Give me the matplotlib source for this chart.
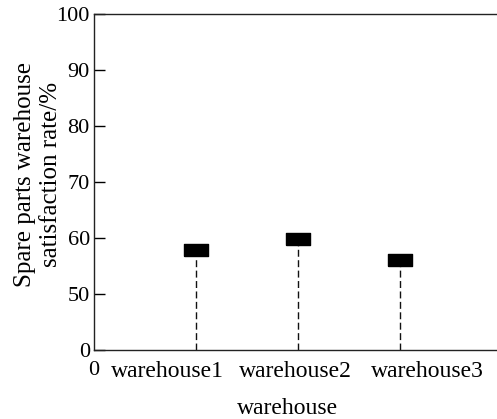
import matplotlib

matplotlib.use("Agg")
import matplotlib.pyplot as plt
from matplotlib.transforms import ScaledTranslation

# data
warehouses = ["warehouse1", "warehouse2", "warehouse3"]
positions = [1, 2, 3]
satisfaction = [57.9, 59.8, 56.1]

# y axis is broken: bottom of the axis stands for 0, then 50..100
y_ticks = [40, 50, 60, 70, 80, 90, 100]
y_tick_labels = ["0", "50", "60", "70", "80", "90", "100"]

# category names are not centred under the stems in the original
label_x = [0.725, 1.975, 3.27]

plt.rcParams["font.family"] = ["Liberation Serif", "DejaVu Serif"]
plt.rcParams["font.size"] = 17

fig = plt.figure(figsize=(4.97, 4.19), dpi=100)
ax = fig.add_axes([0.189, 0.165, 0.811, 0.802])

# dashed stems from the axis up to each marker
ax.vlines(positions, 40, satisfaction, colors="#111111", linestyles=(0, (5, 2.5)), linewidth=1)

# flat black box marker
box = [(-1, -0.5), (1, -0.5), (1, 0.5), (-1, 0.5), (-1, -0.5)]
ax.plot(positions, satisfaction, linestyle="none", marker=box, markersize=17,
        color="black", zorder=3)

ax.set_xlim(0, 3.95)
ax.set_ylim(40, 100)
ax.set_yticks(y_ticks)
ax.set_yticklabels(y_tick_labels, fontsize=16)
ax.set_xticks([0] + label_x)
ax.set_xticklabels(["0"] + warehouses)
xlabels = ax.get_xticklabels()
xlabels[0].set_fontsize(16)
xlabels[0].set_transform(xlabels[0].get_transform() +
                         ScaledTranslation(-4 / 100, 4 / 100, fig.dpi_scale_trans))
xlabels[1].set_transform(xlabels[1].get_transform() +
                         ScaledTranslation(0, 4 / 100, fig.dpi_scale_trans))

ax.tick_params(axis="y", direction="in", length=8, width=1, pad=3)
ax.tick_params(axis="x", length=0, pad=8)

ax.spines["right"].set_visible(False)
for s in ["left", "bottom", "top"]:
    ax.spines[s].set_color("#222222")
    ax.spines[s].set_linewidth(1)

ax.set_xlabel("warehouse")
ax.xaxis.set_label_coords(0.48, -0.142)
ax.set_ylabel("Spare parts warehouse\nsatisfaction rate/%", fontsize=18, linespacing=1.2)
ax.yaxis.set_label_coords(-0.08, 0.522)

fig.savefig("out.png", dpi=100)
